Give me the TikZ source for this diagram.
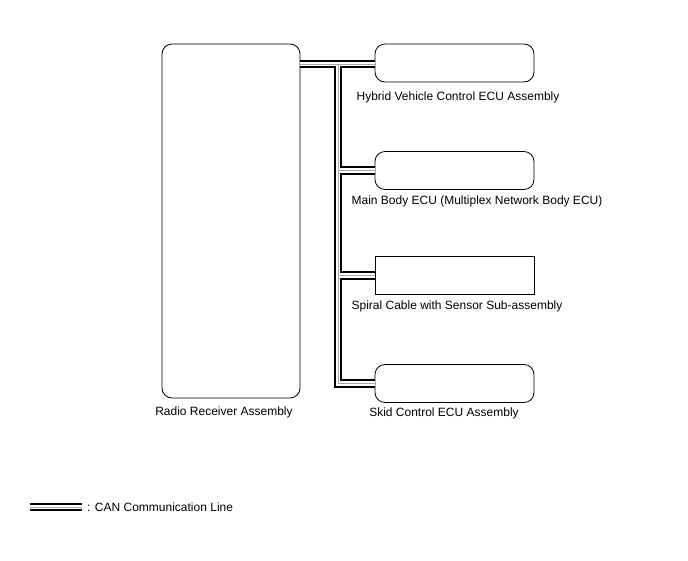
\documentclass[tikz,border=0pt]{standalone}
\usepackage{fontspec}
\setmainfont{Liberation Sans}
\usetikzlibrary{positioning}

\begin{document}
\begin{tikzpicture}[x=1pt, y=-1pt,
    ecu/.style={rectangle, draw, thick, rounded corners=10pt, minimum width=159pt, minimum height=38pt},
    plainbox/.style={rectangle, draw, thick, minimum width=159pt, minimum height=38pt},
    lbl/.style={font=\fontsize{12}{14}\selectfont, inner sep=2pt},
    can/.style={line width=2.2pt, double=white, double distance=4.4pt},
    canmid/.style={gray!70, line width=0.8pt}
]
\useasboundingbox (0,0) rectangle (688,560);

% units
\node[ecu, minimum width=138pt, minimum height=354pt] (radio) at (231,221) {};
\node[ecu] (hv) at (454.5,63) {};
\node[ecu] (mainbody) at (454.5,170.5) {};
\node[plainbox] (spiral) at (454.5,275.5) {};
\node[ecu] (skid) at (454.5,383.5) {};

\node[lbl, below=6pt of radio, xshift=-7pt] (radiolbl) {Radio Receiver Assembly};
\node[lbl, below=7pt of hv, xshift=3.5pt] (hvlbl) {Hybrid Vehicle Control ECU Assembly};
\node[lbl, below=3.5pt of mainbody, xshift=22.5pt] (mainbodylbl) {Main Body ECU (Multiplex Network Body ECU)};
\node[lbl, below=3.5pt of spiral, xshift=2.5pt] (spirallbl) {Spiral Cable with Sensor Sub-assembly};
\node[lbl, below=2.5pt of skid, xshift=-10.5pt] (skidlbl) {Skid Control ECU Assembly};

% CAN bus
\coordinate (bus) at (338,64);
\draw[can] (radio.east |- bus) -- (hv.west |- bus)
    (bus) |- (skid.west)
    (bus |- mainbody.west) -- (mainbody.west)
    (bus |- spiral.west) -- (spiral.west);
\draw[canmid] (radio.east |- bus) -- (hv.west |- bus)
    (bus) |- (skid.west)
    (bus |- mainbody.west) -- (mainbody.west)
    (bus |- spiral.west) -- (spiral.west);

% legend
\coordinate (lega) at (30,507);
\coordinate (legb) at (82,507);
\draw[can] (lega) -- (legb);
\draw[canmid] (lega) -- (legb);
\node[lbl, right=3pt of legb] (legtext) {: CAN Communication Line};
\end{tikzpicture}
\end{document}
